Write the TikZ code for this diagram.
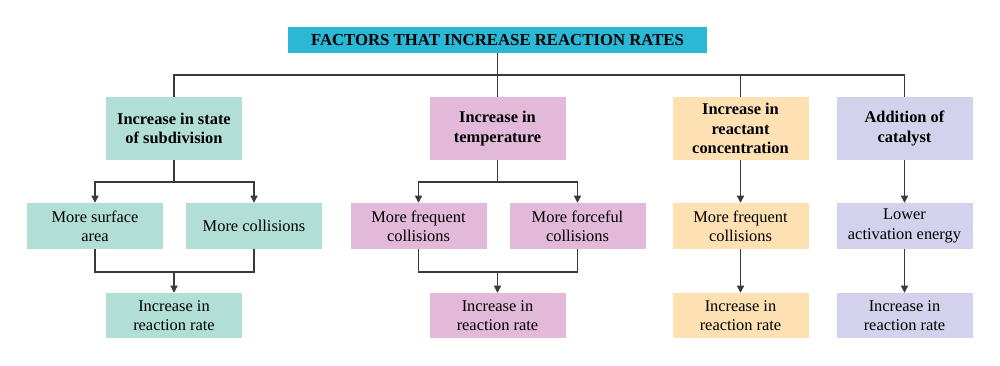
\documentclass[tikz,border=0pt]{standalone}
\usepackage{fontspec}
\setmainfont{Liberation Serif}
\usetikzlibrary{arrows.meta}
\definecolor{cTitle}{HTML}{2AB8D6}
\definecolor{cTeal}{HTML}{B1DFD6}
\definecolor{cPink}{HTML}{E2B9D9}
\definecolor{cPeach}{HTML}{FDE1B3}
\definecolor{cLav}{HTML}{D3D1EB}
\definecolor{cLine}{HTML}{3A3A3A}
\tikzset{
  box/.style={rectangle, inner sep=2pt, align=center, text=black,
    minimum width=4.08cm, font=\fontsize{14}{16.5}\selectfont},
  topbox/.style={box, minimum height=1.89cm, font=\fontsize{14}{16.5}\selectfont\bfseries},
  midbox/.style={box, minimum height=1.38cm},
  botbox/.style={box, minimum height=1.35cm},
  conn/.style={draw=cLine, line width=1pt},
  arr/.style={conn, -{Triangle[length=6pt,width=6pt]}},
}
\begin{document}
\begin{tikzpicture}[x=0.03cm, y=-0.03cm]
\useasboundingbox (0,0) rectangle (1000,366);
% title
\node[rectangle, fill=cTitle, minimum width=12.54cm, minimum height=0.78cm, inner sep=0pt,
  font=\fontsize{14.3}{16.5}\selectfont\bfseries] (title) at (497.5,40) {FACTORS THAT INCREASE REACTION RATES};
% top boxes
\node[topbox, fill=cTeal] (t1) at (174,128.5) {Increase in state\\of subdivision};
\node[topbox, fill=cPink] (t2) at (497.5,128.5) {Increase in\\temperature};
\node[topbox, fill=cPeach] (t3) at (740.5,128.5) {Increase in\\reactant\\concentration};
\node[topbox, fill=cLav] (t4) at (904.5,128.5) {Addition of\\catalyst};
% middle boxes
\node[midbox, fill=cTeal] (s1a) at (95,226) {More surface\\area};
\node[midbox, fill=cTeal] (s1b) at (254,226) {More collisions};
\node[midbox, fill=cPink] (s2a) at (418.5,226) {More frequent\\collisions};
\node[midbox, fill=cPink] (s2b) at (577.5,226) {More forceful\\collisions};
\node[midbox, fill=cPeach] (s3) at (740.5,226) {More frequent\\collisions};
\node[midbox, fill=cLav] (s4) at (904.5,226) {Lower\\activation energy};
% bottom boxes
\node[botbox, fill=cTeal] (b1) at (174,315.5) {Increase in\\reaction rate};
\node[botbox, fill=cPink] (b2) at (497.5,315.5) {Increase in\\reaction rate};
\node[botbox, fill=cPeach] (b3) at (740.5,315.5) {Increase in\\reaction rate};
\node[botbox, fill=cLav] (b4) at (904.5,315.5) {Increase in\\reaction rate};
% coordinates
\coordinate (hl) at (174,75);
\coordinate (hr) at (904.5,75);
\coordinate (f1) at (174,182);
\coordinate (f2) at (497.5,182);
\coordinate (j1) at (174,272);
\coordinate (j2) at (497.5,272);
% top connectors
\draw[conn] (t1.north) -- (hl) -- (hr) -- (t4.north);
\draw[conn] (title.south) -- (t2.north);
\draw[conn] (t3.north) -- (t3.north |- hl);
% column 1
\draw[conn] (t1.south) -- (f1);
\draw[arr] (f1) -| (s1a.north);
\draw[arr] (f1) -| (s1b.north);
\draw[conn] (s1a.south) |- (j1) -| (s1b.south);
\draw[arr] (j1) -- (b1.north);
% column 2
\draw[conn] (t2.south) -- (f2);
\draw[arr] (f2) -| (s2a.north);
\draw[arr] (f2) -| (s2b.north);
\draw[conn] (s2a.south) |- (j2) -| (s2b.south);
\draw[arr] (j2) -- (b2.north);
% column 3
\draw[arr] (t3.south) -- (s3.north);
\draw[arr] (s3.south) -- (b3.north);
% column 4
\draw[arr] (t4.south) -- (s4.north);
\draw[arr] (s4.south) -- (b4.north);
\end{tikzpicture}
\end{document}
